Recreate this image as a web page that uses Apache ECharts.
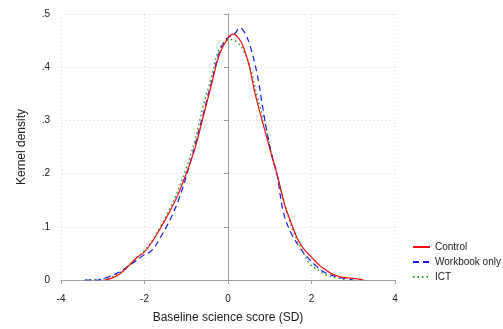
<!DOCTYPE html>
<html>
<head>
<meta charset="utf-8">
<script src="https://cdn.jsdelivr.net/npm/echarts@6/dist/echarts.min.js"></script>
<style>html,body{margin:0;padding:0;background:#fff}#c{width:503px;height:329px}</style>
</head>
<body>
<div id="c"></div>
<script>
const seriesNames = ['Control', 'Workbook only', 'ICT'];
const xTicks = [-4, -2, 0, 2, 4];
const yTicks = [0, 0.1, 0.2, 0.3, 0.4, 0.5];

const controlX = [-2.95,-2.8,-2.6,-2.4,-2.2,-2.0,-1.8,-1.6,-1.4,-1.2,-1.0,-0.8,-0.6,-0.4,-0.2,0.0,0.12,0.25,0.36,0.5,0.65,0.8,1.0,1.17,1.36,1.5,1.65,1.8,2.0,2.2,2.36,2.5,2.68,2.9,3.1,3.25];
const controlY = [0,0.003,0.011,0.025,0.041,0.053,0.074,0.100,0.128,0.160,0.200,0.245,0.305,0.366,0.425,0.455,0.462,0.455,0.440,0.405,0.350,0.305,0.247,0.200,0.141,0.110,0.080,0.060,0.043,0.027,0.018,0.011,0.006,0.004,0.002,0];

const workbookX = [-3.42,-3.1,-2.9,-2.6,-2.3,-2.03,-1.82,-1.62,-1.39,-1.15,-0.9,-0.6,-0.4,-0.2,-0.05,0.05,0.15,0.29,0.4,0.53,0.69,0.81,0.93,1.05,1.17,1.32,1.5,1.72,1.9,2.12,2.3,2.6,2.8,3.0];
const workbookY = [0,0,0.005,0.015,0.031,0.046,0.056,0.080,0.113,0.158,0.222,0.310,0.370,0.430,0.452,0.458,0.462,0.474,0.465,0.440,0.390,0.335,0.279,0.234,0.200,0.130,0.090,0.061,0.043,0.026,0.015,0.006,0.003,0];

const ictX = [-3.42,-3.0,-2.8,-2.6,-2.4,-2.2,-2.0,-1.8,-1.6,-1.4,-1.2,-1.0,-0.8,-0.6,-0.4,-0.2,0.05,0.2,0.36,0.53,0.7,0.9,1.05,1.2,1.4,1.6,1.8,1.96,2.2,2.36,2.6,2.87];
const ictY = [0,0.002,0.005,0.013,0.026,0.041,0.055,0.075,0.103,0.133,0.168,0.210,0.260,0.325,0.380,0.435,0.452,0.448,0.433,0.400,0.345,0.290,0.235,0.190,0.130,0.085,0.052,0.030,0.017,0.009,0.004,0];

const zip = (xs, ys) => xs.map((x, i) => [x, ys[i]]);
const font = 'Liberation Sans, Arial, sans-serif';
const axisCol = '#a0a0a0';

const chart = echarts.init(document.getElementById('c'));
chart.setOption({
  animation: false,
  backgroundColor: '#fff',
  grid: { left: 61, right: 108, top: 14, bottom: 46 },
  legend: {
    orient: 'vertical', left: 412, top: 242, padding: 0,
    itemWidth: 17, itemHeight: 8, itemGap: 5,
    itemStyle: { opacity: 0 },
    textStyle: { fontFamily: font, fontSize: 10, color: '#222' },
    data: seriesNames
  },
  xAxis: {
    type: 'value', min: xTicks[0], max: xTicks[xTicks.length-1], interval: 2,
    offset: 9,
    name: 'Baseline science score (SD)', nameLocation: 'middle', nameGap: 23,
    nameTextStyle: { fontFamily: font, fontSize: 12, color: '#222' },
    axisLine: { show: true, lineStyle: { color: axisCol, width: 1 } },
    axisTick: { show: true, length: 4, lineStyle: { color: axisCol } },
    axisLabel: { fontFamily: font, fontSize: 10, color: '#222', margin: 5 },
    splitLine: { show: true, lineStyle: { color: '#d8d8d8', type: [1, 3], width: 1 } }
  },
  yAxis: {
    type: 'value', min: 0, max: yTicks[yTicks.length-1], interval: 0.1,
    offset: 8,
    name: 'Kernel density', nameLocation: 'middle', nameGap: 25, nameRotate: 90,
    nameTextStyle: { fontFamily: font, fontSize: 12, color: '#222' },
    axisLine: { show: true, lineStyle: { color: axisCol, width: 1 } },
    axisTick: { show: true, length: 4, lineStyle: { color: axisCol } },
    axisLabel: { fontFamily: font, fontSize: 10, color: '#222', margin: 3,
      formatter: v => v === 0 ? '0' : v.toFixed(1).replace(/^0/, '') },
    splitLine: { show: true, lineStyle: { color: '#d8d8d8', type: [1, 3], width: 1 } }
  },
  series: [
    { name: seriesNames[0], type: 'line', data: zip(controlX, controlY), smooth: 0.4, symbol: 'none',
      lineStyle: { color: '#f01010', width: 1.2 }, itemStyle: { color: '#f01010' }, z: 3 },
    { name: seriesNames[1], type: 'line', data: zip(workbookX, workbookY), smooth: 0.4, symbol: 'none',
      lineStyle: { color: '#1a1af0', width: 1.2, type: [6, 4] }, itemStyle: { color: '#1a1af0' }, z: 2 },
    { name: seriesNames[2], type: 'line', data: zip(ictX, ictY), smooth: 0.4, symbol: 'none',
      lineStyle: { color: '#2e9a2e', width: 1.5, type: [1.5, 3] }, itemStyle: { color: '#2e9a2e' }, z: 1 }
  ]
});
</script>
</body>
</html>
